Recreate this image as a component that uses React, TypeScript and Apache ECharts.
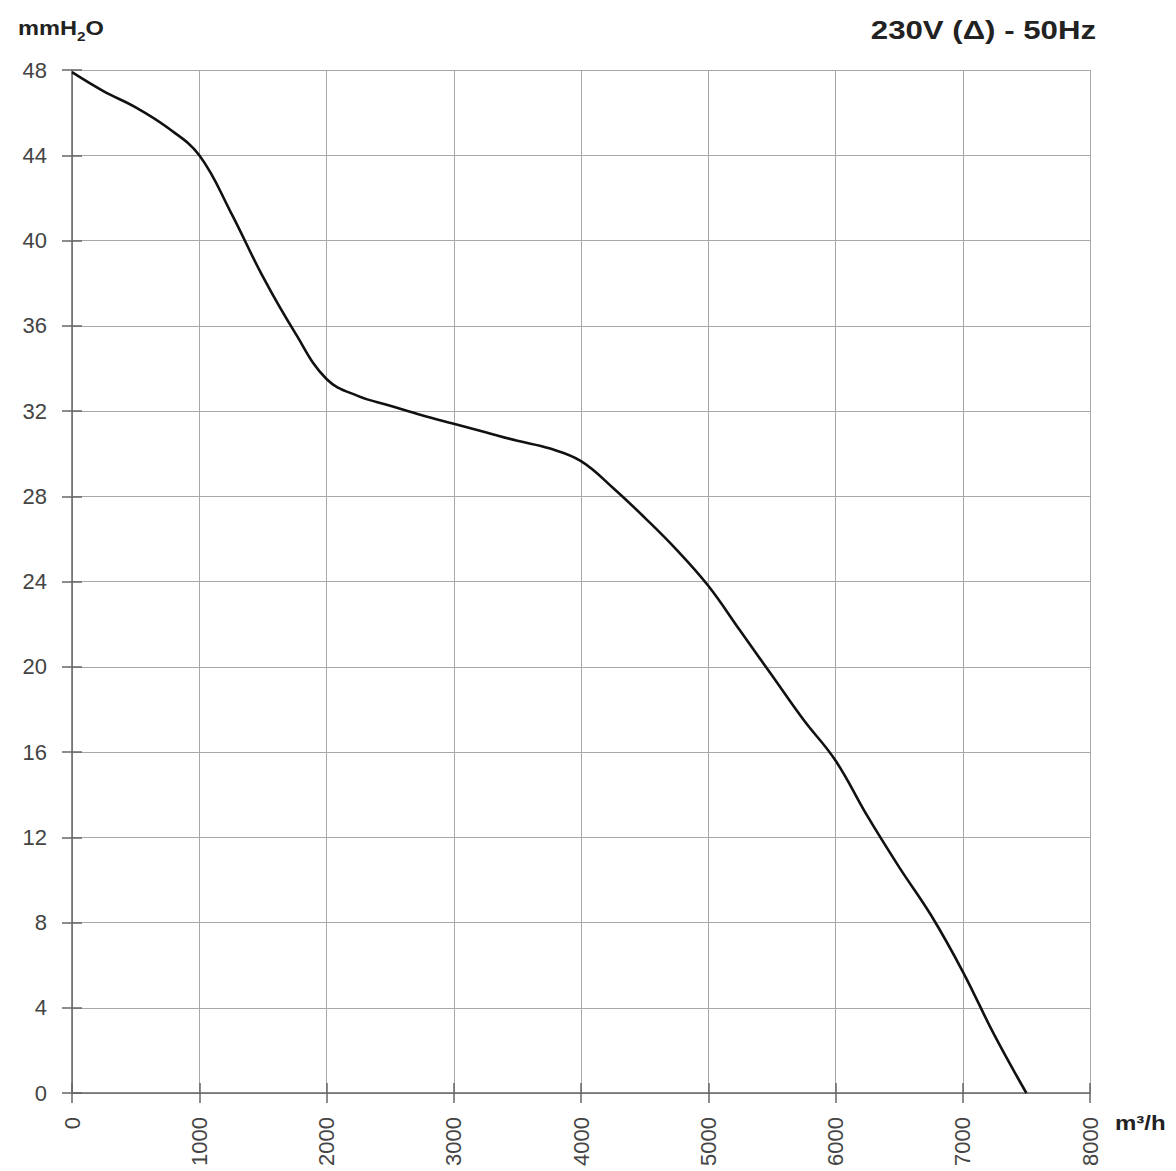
import React, { useEffect, useRef } from "react";
import * as echarts from "echarts";

const flowM3h = [0, 250, 500, 750, 1000, 1250, 1500, 1750, 2000, 2250, 2500, 2750, 3000, 3250, 3500, 3750, 4000, 4250, 4500, 4750, 5000, 5250, 5500, 5750, 6000, 6250, 6500, 6750, 7000, 7250, 7500];
const pressureMmH2O = [47.9, 47.0, 46.25, 45.3, 44.0, 41.3, 38.3, 35.7, 33.5, 32.7, 32.25, 31.8, 31.4, 31.0, 30.6, 30.25, 29.65, 28.4, 27.0, 25.5, 23.8, 21.7, 19.6, 17.5, 15.6, 13.0, 10.6, 8.35, 5.7, 2.7, 0];

const titleText = "230V (\u0394) - 50Hz";
const xUnit = "m\u00b3/h";

const FONT = "Liberation Sans, Arial, Helvetica, sans-serif";

export default function App() {
  const ref = useRef<HTMLDivElement>(null);
  useEffect(() => {
    if (!ref.current) return;
    const chart = echarts.init(ref.current, undefined, { renderer: "svg" });
    const gridColor = "#a8a8a8";
    const axisColor = "#666";
    chart.setOption({
      animation: false,
      backgroundColor: "#fff",
      grid: { left: 72, top: 70, right: 86, bottom: 78 },
      graphic: [
        {
          type: "text",
          x: 18,
          y: 18,
          scaleX: 1.18,
          style: {
            text: "{a|mmH}{s|2}{a|O}",
            rich: {
              a: { fontSize: 20, fontWeight: "bold", fontFamily: FONT, fill: "#222", verticalAlign: "top" },
              s: { fontSize: 13, fontWeight: "bold", fontFamily: FONT, fill: "#222", padding: [12, 0, 0, 0] },
            },
          },
        },
        {
          type: "text",
          x: 1096,
          y: 17,
          scaleX: 1.2,
          style: { text: titleText, fontSize: 26, fontWeight: "bold", fontFamily: FONT, fill: "#222", align: "right" },
        },
        {
          type: "text",
          x: 1115,
          y: 1113,
          scaleX: 1.2,
          style: { text: xUnit, fontSize: 20, fontWeight: "bold", fontFamily: FONT, fill: "#222" },
        },
      ],
      xAxis: [
        {
          type: "value",
          min: 0,
          max: 8000,
          interval: 1000,
          axisLine: { show: true, lineStyle: { color: axisColor, width: 1.5 } },
          axisTick: { show: true, length: 10, lineStyle: { color: axisColor, width: 1.5 } },
          axisLabel: { rotate: 90, fontSize: 22, color: "#444", fontFamily: FONT, margin: 24, formatter: (v: number) => String(v) },
          splitLine: { show: true, lineStyle: { color: gridColor, width: 1 } },
        },
        {
          type: "value",
          position: "bottom",
          min: 0,
          max: 8000,
          interval: 1000,
          axisLine: { show: false },
          axisTick: { show: true, inside: true, length: 10, lineStyle: { color: axisColor, width: 1.5 } },
          axisLabel: { show: false },
          splitLine: { show: false },
        },
      ],
      yAxis: [
        {
          type: "value",
          min: 0,
          max: 48,
          interval: 4,
          axisLine: { show: true, lineStyle: { color: axisColor, width: 1.5 } },
          axisTick: { show: true, length: 10, lineStyle: { color: axisColor, width: 1.5 } },
          axisLabel: { fontSize: 22, color: "#444", fontFamily: FONT, margin: 25 },
          splitLine: { show: true, lineStyle: { color: gridColor, width: 1 } },
        },
        {
          type: "value",
          position: "left",
          min: 0,
          max: 48,
          interval: 4,
          axisLine: { show: false },
          axisTick: { show: true, inside: true, length: 10, lineStyle: { color: axisColor, width: 1.5 } },
          axisLabel: { show: false },
          splitLine: { show: false },
        },
      ],
      series: [
        {
          type: "line",
          data: flowM3h.map((x, i) => [x, pressureMmH2O[i]]),
          smooth: 0.4,
          showSymbol: false,
          symbol: "none",
          lineStyle: { color: "#111", width: 2.6 },
          z: 5,
        },
      ],
    });
    return () => chart.dispose();
  }, []);
  return <div ref={ref} style={{ position: "fixed", left: 0, top: 0, width: 1176, height: 1171, background: "#fff" }} />;
}
